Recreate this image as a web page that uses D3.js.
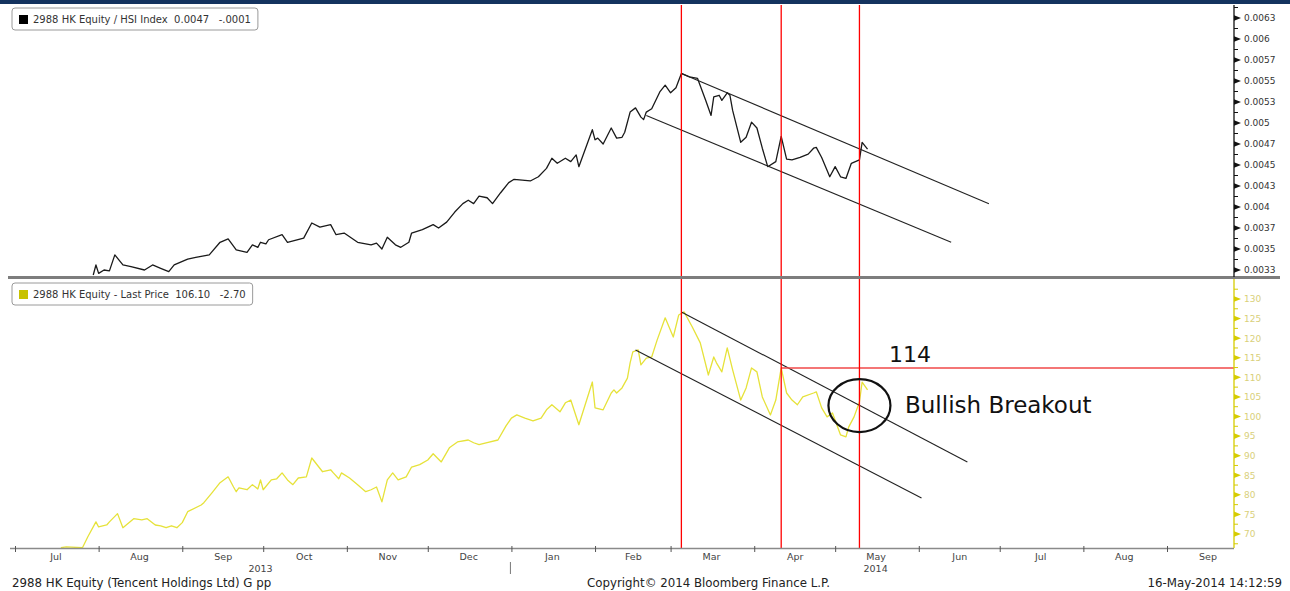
<!DOCTYPE html>
<html><head><meta charset="utf-8">
<script src="https://cdn.jsdelivr.net/npm/d3@7"></script>
<style>
body{margin:0;background:#fff}
svg{display:block}
text{font-family:"DejaVu Sans",sans-serif}
</style>
</head><body>
<svg id="c" width="1290" height="591"></svg>
<script>
// ---------------- data ----------------
const ratioDates = ["2013-07-30","2013-07-31","2013-08-01","2013-08-03","2013-08-05","2013-08-07","2013-08-10","2013-08-13","2013-08-18","2013-08-21","2013-08-24","2013-08-27","2013-08-29","2013-09-03","2013-09-06","2013-09-11","2013-09-15","2013-09-18","2013-09-21","2013-09-25","2013-09-27","2013-09-29","2013-09-30","2013-10-02","2013-10-03","2013-10-08","2013-10-10","2013-10-16","2013-10-19","2013-10-22","2013-10-26","2013-10-28","2013-10-31","2013-11-05","2013-11-10","2013-11-12","2013-11-14","2013-11-16","2013-11-19","2013-11-21","2013-11-24","2013-11-25","2013-11-29","2013-12-03","2013-12-05","2013-12-08","2013-12-11","2013-12-14","2013-12-16","2013-12-18","2013-12-20","2013-12-23","2013-12-25","2013-12-28","2013-12-31","2014-01-02","2014-01-05","2014-01-08","2014-01-11","2014-01-14","2014-01-16","2014-01-18","2014-01-21","2014-01-23","2014-01-25","2014-01-26","2014-01-31","2014-02-01","2014-02-02","2014-02-04","2014-02-07","2014-02-09","2014-02-11","2014-02-12","2014-02-14","2014-02-16","2014-02-18","2014-02-19","2014-02-20","2014-02-22","2014-02-25","2014-02-27","2014-03-01","2014-03-03","2014-03-05","2014-03-08","2014-03-11","2014-03-14","2014-03-16","2014-03-17","2014-03-19","2014-03-20","2014-03-22","2014-03-23","2014-03-24","2014-03-27","2014-03-29","2014-03-31","2014-04-02","2014-04-04","2014-04-06","2014-04-09","2014-04-11","2014-04-13","2014-04-15","2014-04-18","2014-04-21","2014-04-23","2014-04-24","2014-04-26","2014-04-29","2014-05-01","2014-05-03","2014-05-05","2014-05-07","2014-05-10","2014-05-11","2014-05-13"];
const ratioValues = [0.00319,0.00331,0.00321,0.00325,0.00324,0.00343,0.00331,0.00329,0.00325,0.00331,0.00327,0.00323,0.00331,0.00338,0.00340,0.00343,0.00358,0.00362,0.00349,0.00346,0.00355,0.00352,0.00358,0.00356,0.00361,0.00367,0.00358,0.00363,0.00381,0.00376,0.00379,0.00367,0.00369,0.00358,0.00355,0.00357,0.00350,0.00364,0.00355,0.00352,0.00358,0.00369,0.00373,0.00379,0.00375,0.00382,0.00394,0.00404,0.00408,0.00404,0.00413,0.00411,0.00404,0.00417,0.00429,0.00433,0.00432,0.00431,0.00436,0.00446,0.00458,0.00452,0.00458,0.00454,0.00462,0.00448,0.00492,0.00480,0.00482,0.00475,0.00494,0.00482,0.00483,0.00489,0.00513,0.00518,0.00507,0.00504,0.00513,0.00517,0.00537,0.00545,0.00536,0.00542,0.00559,0.00555,0.00553,0.00527,0.00509,0.00531,0.00533,0.00527,0.00536,0.00533,0.00515,0.00477,0.00483,0.00501,0.00494,0.00470,0.00448,0.00454,0.00484,0.00457,0.00456,0.00459,0.00463,0.00470,0.00471,0.00459,0.00436,0.00448,0.00436,0.00434,0.00452,0.00456,0.00477,0.00469];

const priceDates = ["2013-07-18","2013-07-20","2013-07-26","2013-07-28","2013-07-31","2013-08-01","2013-08-04","2013-08-05","2013-08-08","2013-08-10","2013-08-14","2013-08-17","2013-08-19","2013-08-22","2013-08-24","2013-08-26","2013-08-28","2013-08-30","2013-09-01","2013-09-03","2013-09-08","2013-09-09","2013-09-12","2013-09-15","2013-09-18","2013-09-20","2013-09-21","2013-09-22","2013-09-25","2013-09-27","2013-09-29","2013-09-30","2013-10-01","2013-10-04","2013-10-06","2013-10-08","2013-10-10","2013-10-12","2013-10-14","2013-10-17","2013-10-19","2013-10-23","2013-10-26","2013-10-27","2013-10-29","2013-10-30","2013-11-02","2013-11-05","2013-11-08","2013-11-10","2013-11-12","2013-11-14","2013-11-16","2013-11-18","2013-11-20","2013-11-23","2013-11-25","2013-11-28","2013-12-01","2013-12-03","2013-12-06","2013-12-09","2013-12-12","2013-12-16","2013-12-18","2013-12-20","2013-12-23","2013-12-27","2013-12-30","2014-01-01","2014-01-03","2014-01-06","2014-01-09","2014-01-12","2014-01-14","2014-01-16","2014-01-19","2014-01-21","2014-01-23","2014-01-26","2014-01-31","2014-02-01","2014-02-04","2014-02-07","2014-02-08","2014-02-09","2014-02-11","2014-02-13","2014-02-14","2014-02-15","2014-02-17","2014-02-18","2014-02-20","2014-02-22","2014-02-24","2014-02-27","2014-03-02","2014-03-04","2014-03-06","2014-03-09","2014-03-12","2014-03-15","2014-03-17","2014-03-18","2014-03-20","2014-03-22","2014-03-24","2014-03-27","2014-03-29","2014-03-31","2014-04-02","2014-04-04","2014-04-07","2014-04-09","2014-04-11","2014-04-13","2014-04-15","2014-04-17","2014-04-19","2014-04-23","2014-04-24","2014-04-26","2014-04-28","2014-04-30","2014-05-03","2014-05-05","2014-05-06","2014-05-08","2014-05-10","2014-05-11","2014-05-13"];
const priceValues = [66.5,66.7,66.5,69.3,73.1,71.8,72.3,73.1,75.2,71.6,73.9,73.6,73.9,72.3,72.1,71.6,72.1,71.6,72.9,75.7,77.4,78.0,80.5,83.1,84.6,82.0,80.8,81.8,81.3,82.6,81.5,83.8,81.3,83.8,84.1,85.6,83.8,82.6,84.3,84.6,89.4,85.9,86.4,85.6,84.1,85.6,84.3,82.6,80.8,81.3,82.0,78.2,83.8,85.6,83.8,84.6,87.1,87.7,88.9,90.5,88.4,92.0,93.5,94.0,93.3,92.8,93.3,94.0,97.6,99.6,100.4,99.6,98.9,99.6,101.7,103.0,101.2,103.5,104.2,97.9,108.8,102.2,101.7,106.0,106.8,106.0,107.3,109.8,113.7,116.5,117.0,113.2,114.9,115.2,119.5,125.2,120.3,125.9,126.7,122.9,118.8,110.6,115.2,113.7,111.4,117.5,111.9,104.2,107.3,112.4,111.4,105.0,100.4,104.2,112.4,106.0,104.2,103.0,105.0,106.0,106.3,102.2,99.9,100.9,95.3,94.8,97.3,99.9,103.7,108.8,106.8];

const ratioTicks = [0.00325,0.0035,0.00375,0.004,0.00425,0.0045,0.00475,0.005,0.00525,0.0055,0.00575,0.006,0.00625];
const ratioTickLabels = ["0.0033","0.0035","0.0037","0.004","0.0043","0.0045","0.0047","0.005","0.0053","0.0055","0.0057","0.006","0.0063"];
const priceTicks = [70,75,80,85,90,95,100,105,110,115,120,125,130];

const monthStarts = ["2013-07-01","2013-08-01","2013-09-01","2013-10-01","2013-11-01","2013-12-01","2014-01-01","2014-02-01","2014-03-01","2014-04-01","2014-05-01","2014-06-01","2014-07-01","2014-08-01","2014-09-01"];
const monthLabelDates = ["2013-07-16","2013-08-16","2013-09-16","2013-10-16","2013-11-16","2013-12-16","2014-01-16","2014-02-15","2014-03-16","2014-04-16","2014-05-16","2014-06-16","2014-07-16","2014-08-16","2014-09-16"];
const monthLabels = ["Jul","Aug","Sep","Oct","Nov","Dec","Jan","Feb","Mar","Apr","May","Jun","Jul","Aug","Sep"];
const yearLabelDates = ["2013-09-30","2014-05-16"];
const yearLabels = ["2013","2014"];
const yearBreak = "2014-01-01";

const eventDates = ["2014-03-05","2014-04-11","2014-05-10"];
const ratioChannelUpper = [["2014-03-05",0.00559],["2014-06-27",0.00404]];
const ratioChannelLower = [["2014-02-20",0.00509],["2014-06-13",0.00358]];
const priceChannelUpper = [["2014-03-05",126.7],["2014-06-19",88.4]];
const priceChannelLower = [["2014-02-16",117.0],["2014-06-02",79.2]];
const resistanceStart = "2014-04-11";
const resistanceLevel = 112.4;
const resistanceLabel = "114";
const breakoutCenter = ["2014-05-10",102.8];
const breakoutLabel = "Bullish Breakout";

// ---------------- setup ----------------
const parse = d3.timeParse("%Y-%m-%d");
const svg = d3.select("#c");
const W = 1290;
const AX = 1234;               // right axis position
const topP = {y0:5, y1:276};
const botP = {y0:280, y1:548};

const x = d3.scaleTime().domain([parse("2013-07-01"), parse("2014-09-01")]).range([15,1167]);
const yTop = d3.scaleLinear().domain([0.00325,0.00625]).range([270,18]);
const yBot = d3.scaleLinear().domain([70,130]).range([534,299]);

const defs = svg.append("defs");
defs.append("clipPath").attr("id","clipTop").append("rect").attr("x",10).attr("y",topP.y0).attr("width",AX-10).attr("height",topP.y1-topP.y0);
defs.append("clipPath").attr("id","clipBot").append("rect").attr("x",10).attr("y",botP.y0).attr("width",AX-10).attr("height",botP.y1-botP.y0);

// top navy band
svg.append("rect").attr("x",0).attr("y",0).attr("width",W).attr("height",4).attr("fill","#14335f");

// ---------------- top panel ----------------
const gTop = svg.append("g").attr("clip-path","url(#clipTop)");
const ratioData = ratioDates.map((d,i)=>({d:parse(d), v:ratioValues[i]}));
gTop.append("path").datum(ratioData)
  .attr("d", d3.line().x(p=>x(p.d)).y(p=>yTop(p.v)))
  .attr("fill","none").attr("stroke","#1a1a1a").attr("stroke-width",1.3).attr("stroke-linejoin","round");

[ratioChannelUpper, ratioChannelLower].forEach(seg=>{
  gTop.append("line")
    .attr("x1",x(parse(seg[0][0]))).attr("y1",yTop(seg[0][1]))
    .attr("x2",x(parse(seg[1][0]))).attr("y2",yTop(seg[1][1]))
    .attr("stroke","#222").attr("stroke-width",1.1);
});

// ---------------- bottom panel ----------------
const gBot = svg.append("g").attr("clip-path","url(#clipBot)");
const priceData = priceDates.map((d,i)=>({d:parse(d), v:priceValues[i]}));
gBot.append("path").datum(priceData)
  .attr("d", d3.line().x(p=>x(p.d)).y(p=>yBot(p.v)))
  .attr("fill","none").attr("stroke","#e6e23a").attr("stroke-width",1.3).attr("stroke-linejoin","round");

[priceChannelUpper, priceChannelLower].forEach(seg=>{
  gBot.append("line")
    .attr("x1",x(parse(seg[0][0]))).attr("y1",yBot(seg[0][1]))
    .attr("x2",x(parse(seg[1][0]))).attr("y2",yBot(seg[1][1]))
    .attr("stroke","#222").attr("stroke-width",1.1);
});

// resistance line
svg.append("line")
  .attr("x1",x(parse(resistanceStart))).attr("x2",AX)
  .attr("y1",yBot(resistanceLevel)).attr("y2",yBot(resistanceLevel))
  .attr("stroke","#f04848").attr("stroke-width",1.6);

// vertical red event lines
eventDates.forEach(d=>{
  svg.append("line").attr("x1",x(parse(d))).attr("x2",x(parse(d)))
    .attr("y1",topP.y0).attr("y2",botP.y1)
    .attr("stroke","#ff0000").attr("stroke-width",1.3);
});

// breakout ellipse and annotations
svg.append("ellipse")
  .attr("cx",x(parse(breakoutCenter[0]))).attr("cy",yBot(breakoutCenter[1]))
  .attr("rx",31).attr("ry",26.5)
  .attr("fill","none").attr("stroke","#111").attr("stroke-width",2.2);
svg.append("text").attr("x",889).attr("y",362).attr("font-size",22).attr("fill","#111").text(resistanceLabel);
svg.append("text").attr("x",905).attr("y",413).attr("font-size",23).attr("fill","#111").text(breakoutLabel);

// ---------------- separators ----------------
svg.append("rect").attr("x",8).attr("y",276).attr("width",1272).attr("height",3).attr("fill","#7d7d7d");
svg.append("line").attr("x1",10).attr("x2",AX).attr("y1",548.5).attr("y2",548.5).attr("stroke","#8a8a8a").attr("stroke-width",1.5);

// ---------------- right axes ----------------
function rightAxis(scale, ticks, fmt, color, labelColor, y0, y1){
  const g = svg.append("g").attr("transform",`translate(${AX},0)`);
  g.append("line").attr("x1",0).attr("x2",0).attr("y1",y0).attr("y2",y1).attr("stroke",color).attr("stroke-width",1.3);
  const minors = d3.pairs(ticks).map(p=>(p[0]+p[1])/2);
  const step = ticks[1]-ticks[0];
  minors.unshift(ticks[0]-step/2); minors.push(ticks[ticks.length-1]+step/2);
  const ax = d3.axisRight(scale).tickValues(ticks).tickFormat(fmt).tickSize(0).tickPadding(10);
  const ga = g.append("g").call(ax);
  ga.select(".domain").remove();
  ga.selectAll("text").attr("fill",labelColor).attr("font-size",9).attr("font-family","DejaVu Sans");
  g.selectAll("path.tri").data(ticks).enter().append("path")
    .attr("d",d=>`M0,${scale(d)-2.8}L7,${scale(d)}L0,${scale(d)+2.8}Z`).attr("fill",color);
  g.selectAll("line.minor").data(minors.filter(m=>scale(m)>y0 && scale(m)<y1)).enter().append("line")
    .attr("x1",0).attr("x2",4).attr("y1",d=>scale(d)).attr("y2",d=>scale(d)).attr("stroke",color).attr("stroke-width",1);
}
rightAxis(yTop, ratioTicks, (d,i)=>ratioTickLabels[i], "#111", "#333", topP.y0, 277);
rightAxis(yBot, priceTicks, d3.format("d"), "#d6cc00", "#d9d07a", 279, botP.y1);

// ---------------- bottom time axis ----------------
const gx = svg.append("g").attr("transform",`translate(0,${botP.y1})`);
const tickAxis = d3.axisBottom(x).tickValues(monthStarts.map(parse)).tickFormat("").tickSize(4);
gx.append("g").call(tickAxis).call(g=>{g.select(".domain").remove(); g.selectAll("line").attr("stroke","#555").attr("y1",-2);});
const labAxis = d3.axisBottom(x).tickValues(monthLabelDates.map(parse)).tickFormat((d,i)=>monthLabels[i]).tickSize(0).tickPadding(5);
gx.append("g").call(labAxis).call(g=>{g.select(".domain").remove(); g.selectAll("text").attr("fill","#444").attr("font-size",9.5).attr("font-family","DejaVu Sans");});

yearLabelDates.forEach((d,i)=>{
  svg.append("text").attr("x",x(parse(d))).attr("y",572).attr("text-anchor","middle")
    .attr("font-size",9.5).attr("fill","#444").text(yearLabels[i]);
});
svg.append("line").attr("x1",x(parse(yearBreak))-1).attr("x2",x(parse(yearBreak))-1).attr("y1",562).attr("y2",574).attr("stroke","#777");

// ---------------- legends ----------------
function legend(y, sq, label){
  const g = svg.append("g");
  const t = g.append("text").attr("x",33).attr("y",y+15).attr("font-size",10).attr("fill","#333").style("white-space","pre").text(label);
  const w = t.node().getComputedTextLength();
  g.insert("rect","text").attr("x",12).attr("y",y).attr("width",w+28).attr("height",22).attr("rx",3)
    .attr("fill","#fff").attr("stroke","#9a9a9a");
  g.append("rect").attr("x",19).attr("y",y+7).attr("width",9).attr("height",9).attr("fill",sq);
}
legend(8, "#000", "2988 HK Equity / HSI Index  0.0047   -.0001");
legend(283, "#c8c200", "2988 HK Equity - Last Price  106.10   -2.70");

// ---------------- footer ----------------
svg.append("text").attr("x",12).attr("y",587).attr("font-size",11.8).attr("fill","#222").text("2988 HK Equity (Tencent Holdings Ltd) G pp");
svg.append("text").attr("x",587).attr("y",587).attr("font-size",11.8).attr("fill","#222").text("Copyright\u00A9 2014 Bloomberg Finance L.P.");
svg.append("text").attr("x",1282).attr("y",587).attr("text-anchor","end").attr("font-size",11.8).attr("fill","#222").text("16-May-2014 14:12:59");
</script>
</body></html>
